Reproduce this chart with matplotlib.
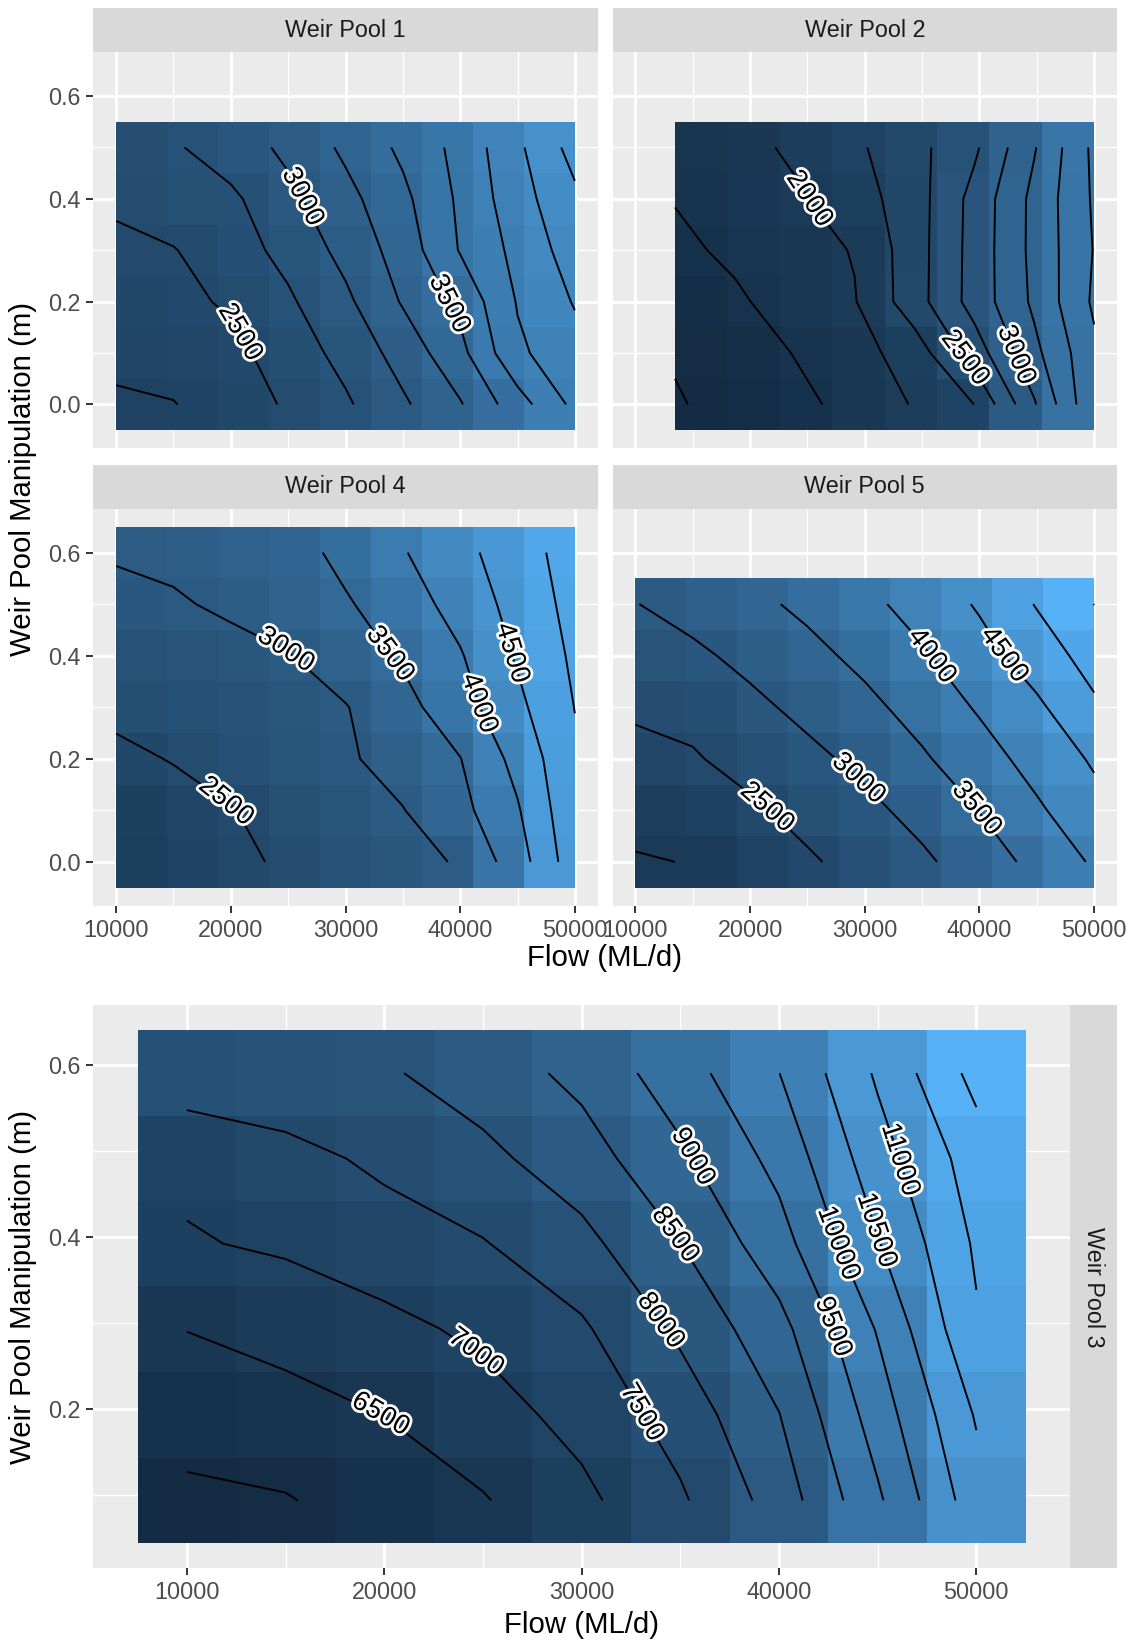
import numpy as np
import matplotlib
matplotlib.use("Agg")
import matplotlib.pyplot as plt
import matplotlib.patheffects as pe
from matplotlib.colors import LinearSegmentedColormap, Normalize

plt.rcParams['font.family'] = ['Liberation Sans', 'DejaVu Sans']

# grids: flow (ML/d) and weir pool manipulation (m)
flow = [10000, 15000, 20000, 25000, 30000, 35000, 40000, 45000, 50000]
flow_wp2 = [13450, 18670, 23890, 29110, 34340, 39560, 44780, 50000]
manip = [0.0, 0.1, 0.2, 0.3, 0.4, 0.5]
manip_wp4 = [0.0, 0.1, 0.2, 0.3, 0.4, 0.5, 0.6]
manip_wp3 = [0.094, 0.193, 0.293, 0.392, 0.491, 0.59]

# values, one row per manipulation level
wp1 = [[2220, 2240, 2380, 2528, 2715, 2962, 3230, 3640, 4065],
       [2300, 2360, 2431, 2619, 2827, 3098, 3428, 3956, 4160],
       [2390, 2440, 2530, 2714, 2949, 3272, 3564, 4016, 4268],
       [2460, 2488, 2642, 2822, 3075, 3358, 3766, 4070, 4371],
       [2530, 2650, 2700, 2939, 3173, 3441, 3794, 4150, 4450],
       [2600, 2720, 2876, 3052, 3298, 3551, 3827, 4202, 4593]]
wp2 = [[1480, 1573, 1684, 1827, 2020, 2252, 2975, 3721],
       [1520, 1614, 1759, 1904, 2117, 2618, 3185, 3700],
       [1578, 1714, 1850, 1986, 2395, 2847, 3297, 3790],
       [1700, 1793, 1899, 2014, 2391, 2842, 3319, 3762],
       [1760, 1880, 1958, 2136, 2386, 2833, 3317, 3783],
       [1800, 1896, 2050, 2204, 2420, 2707, 3231, 3807]]
wp4 = [[2112, 2261, 2411, 2560, 2710, 2859, 3039, 3767, 4798],
       [2147, 2314, 2482, 2649, 2816, 2984, 3356, 3954, 4886],
       [2387, 2525, 2663, 2801, 2940, 3176, 3488, 4155, 4925],
       [2618, 2680, 2760, 2850, 2976, 3344, 3797, 4387, 5010],
       [2720, 2800, 2860, 2976, 3261, 3564, 3961, 4552, 5087],
       [2900, 2950, 3077, 3263, 3449, 3767, 4183, 4678, 5160],
       [3035, 3100, 3200, 3298, 3633, 3967, 4356, 4780, 5220]]
wp5 = [[1980, 2009, 2224, 2439, 2673, 2914, 3244, 3639, 4062],
       [2080, 2200, 2421, 2648, 2876, 3159, 3512, 3926, 4340],
       [2350, 2457, 2668, 2879, 3124, 3440, 3791, 4184, 4560],
       [2577, 2640, 2884, 3130, 3377, 3686, 4056, 4412, 4920],
       [2780, 2904, 3133, 3362, 3625, 3942, 4318, 4740, 5200],
       [2986, 3183, 3380, 3605, 3877, 4191, 4555, 5030, 5505]]
wp3 = [[5900, 5970, 6212, 6465, 6884, 7430, 8210, 9420, 10790],
       [6200, 6300, 6506, 6799, 7157, 7709, 8486, 9735, 11045],
       [6510, 6685, 6870, 7099, 7428, 8096, 8836, 10038, 11441],
       [6960, 7069, 7270, 7472, 7856, 8494, 9304, 10468, 11570],
       [7108, 7334, 7605, 7876, 8278, 8901, 9654, 10790, 11748],
       [7800, 7870, 7940, 8240, 8633, 9283, 9994, 11070, 12167]]

# contour breaks
lev_wp1 = np.arange(2250, 4751, 250)
lev_wp2 = np.arange(1500, 4001, 250)
lev_wp4 = np.arange(2500, 5501, 500)
lev_wp5 = np.arange(2000, 5501, 500)
lev_wp3 = np.arange(6000, 12001, 500)
# labelled breaks -> where along the line (fraction of its length) the label sits
lab_wp1 = {2500: 0.68, 3000: 0.2, 3500: 0.6}
lab_wp2 = {2000: 0.21, 2500: 0.8, 3000: 0.8}
lab_wp4 = {2500: 0.64, 3000: 0.41, 3500: 0.34, 4000: 0.5, 4500: 0.33}
lab_wp5 = {2500: 0.67, 3000: 0.71, 3500: 0.81, 4000: 0.21, 4500: 0.29}
lab_wp3 = {6500: 0.6, 7000: 0.62, 7500: 0.85, 8000: 0.64, 8500: 0.41,
           9000: 0.21, 9500: 0.61, 10000: 0.4, 10500: 0.37, 11000: 0.245}

gg = LinearSegmentedColormap.from_list('gg', ['#132B43', '#336A98', '#56B1F7'])

W, H = 1134, 1642
fig = plt.figure(figsize=(W / 100, H / 100), dpi=100)

TICK = 16.8
TITLE = 21.2


def rect(x0, y0, x1, y1):
    return [x0 / W, 1 - y1 / H, (x1 - x0) / W, (y1 - y0) / H]


def strip(r, text, rot=0):
    s = fig.add_axes(rect(*r))
    s.set_facecolor('#D9D9D9')
    s.set_xticks([])
    s.set_yticks([])
    for sp in s.spines.values():
        sp.set_visible(False)
    s.text(0.5, 0.5, text, transform=s.transAxes, ha='center', va='center',
           fontsize=TICK, color='#1A1A1A', rotation=rot)


def style(ax, xlim, ylim, xmaj, xmin, ymaj, ymin, show_x, show_y):
    ax.set_facecolor('#EBEBEB')
    ax.set_xlim(xlim)
    ax.set_ylim(ylim)
    ax.set_xticks(xmaj)
    ax.set_xticks(xmin, minor=True)
    ax.set_yticks(ymaj)
    ax.set_yticks(ymin, minor=True)
    ax.set_xticklabels(['%d' % v for v in xmaj])
    ax.set_yticklabels(['%.1f' % v for v in ymaj])
    ax.grid(which='major', color='white', lw=2.0)
    ax.grid(which='minor', color='white', lw=1.0)
    ax.set_axisbelow(True)
    for sp in ax.spines.values():
        sp.set_visible(False)
    ax.tick_params(which='minor', length=0)
    ax.tick_params(which='major', length=5.3, width=1.4, color='#333333',
                   labelsize=TICK, labelcolor='#4D4D4D', pad=4)
    if not show_x:
        ax.tick_params(axis='x', which='both', length=0, labelbottom=False)
    if not show_y:
        ax.tick_params(axis='y', which='both', length=0, labelleft=False)


def at_length(d, cum, s):
    s = min(max(s, 0), cum[-1])
    i = int(np.clip(np.searchsorted(cum, s), 1, len(d) - 1))
    f = (s - cum[i - 1]) / max(cum[i] - cum[i - 1], 1e-9)
    return d[i - 1] + f * (d[i] - d[i - 1])


def panel(ax, x, y, z, levels, labels, norm, centred):
    x = np.asarray(x, float)
    y = np.asarray(y, float)
    z = np.asarray(z, float)
    if centred:
        dx = np.diff(x).mean()
        xe = np.r_[x - dx / 2, x[-1] + dx / 2]
    else:
        xe = np.linspace(x[0], x[-1], len(x) + 1)
    dy = np.diff(y).mean()
    ye = np.r_[y - dy / 2, y[-1] + dy / 2]
    ax.pcolormesh(xe, ye, z, cmap=gg, norm=norm, shading='flat',
                  antialiased=False, zorder=1)
    cs = ax.contour(x, y, z, levels=levels, colors='black', linewidths=1.4,
                    zorder=2)
    inv = ax.transData.inverted()
    for lv, path in zip(cs.levels, cs.get_paths()):
        frac = None
        for k, v in labels.items():
            if abs(lv - k) < 1e-6:
                frac = v
        if frac is None:
            continue
        for seg in path.to_polygons(closed_only=False):
            if len(seg) < 2:
                continue
            if seg[0, 0] > seg[-1, 0]:
                seg = seg[::-1]
            d = ax.transData.transform(seg)
            cum = np.r_[0, np.cumsum(np.hypot(*np.diff(d, axis=0).T))]
            if cum[-1] < 110:
                continue
            s = frac * cum[-1]
            p = at_length(d, cum, s)
            a = at_length(d, cum, s - 18)
            b = at_length(d, cum, s + 18)
            ang = np.degrees(np.arctan2(b[1] - a[1], b[0] - a[0]))
            while ang > 80:
                ang -= 180
            while ang <= -100:
                ang += 180
            px, py = inv.transform(p)
            ax.text(px, py, '%d' % lv, rotation=ang, rotation_mode='anchor',
                    ha='center', va='center', fontsize=20, color='black',
                    zorder=3, clip_on=True,
                    path_effects=[pe.withStroke(linewidth=4, foreground='white')])


# ---- top block: facet_wrap of pools 1, 2, 4, 5 ----
top_all = np.concatenate([np.ravel(wp1), np.ravel(wp2), np.ravel(wp4), np.ravel(wp5)])
norm_top = Normalize(top_all.min(), top_all.max())

xl, xr = (93.2, 597.8), (612.5, 1117.1)
rows = [((8.4, 52.4), (52.4, 448.1)), ((464.9, 508.8), (508.8, 905.7))]
panels = [
    ('Weir Pool 1', flow, manip, wp1, lev_wp1, lab_wp1, 0, 0),
    ('Weir Pool 2', flow_wp2, manip, wp2, lev_wp2, lab_wp2, 0, 1),
    ('Weir Pool 4', flow, manip_wp4, wp4, lev_wp4, lab_wp4, 1, 0),
    ('Weir Pool 5', flow, manip, wp5, lev_wp5, lab_wp5, 1, 1),
]
for name, x, y, z, lev, lab, r, c in panels:
    cx = xl if c == 0 else xr
    (sy0, sy1), (py0, py1) = rows[r]
    strip((cx[0], sy0, cx[1], sy1), name)
    ax = fig.add_axes(rect(cx[0], py0, cx[1], py1))
    style(ax, (8000, 52000), (-0.085, 0.685),
          [10000, 20000, 30000, 40000, 50000], [15000, 25000, 35000, 45000],
          [0.0, 0.2, 0.4, 0.6], [0.1, 0.3, 0.5],
          show_x=(r == 1), show_y=(c == 0))
    panel(ax, x, y, z, lev, lab, norm_top, centred=False)

fig.text(23 / W, 1 - 479 / H, 'Weir Pool Manipulation (m)', rotation=90,
         ha='center', va='center', fontsize=TITLE)
fig.text(605 / W, 1 - 958 / H, 'Flow (ML/d)', ha='center', va='center',
         fontsize=TITLE)

# ---- bottom block: pool 3 ----
norm_bot = Normalize(np.min(wp3), np.max(wp3))
ax3 = fig.add_axes(rect(93.2, 1005.1, 1070.1, 1568.4))
style(ax3, (5250, 54750), (0.015, 0.669),
      [10000, 20000, 30000, 40000, 50000], [15000, 25000, 35000, 45000],
      [0.2, 0.4, 0.6], [0.1, 0.3, 0.5], show_x=True, show_y=True)
panel(ax3, flow, manip_wp3, wp3, lev_wp3, lab_wp3, norm_bot, centred=True)
strip((1070.1, 1005.1, 1117.1, 1568.4), 'Weir Pool 3', rot=-90)

fig.text(23 / W, 1 - 1287 / H, 'Weir Pool Manipulation (m)', rotation=90,
         ha='center', va='center', fontsize=TITLE)
fig.text(582 / W, 1 - 1625 / H, 'Flow (ML/d)', ha='center', va='center',
         fontsize=TITLE)

fig.savefig('out.png', dpi=100)
